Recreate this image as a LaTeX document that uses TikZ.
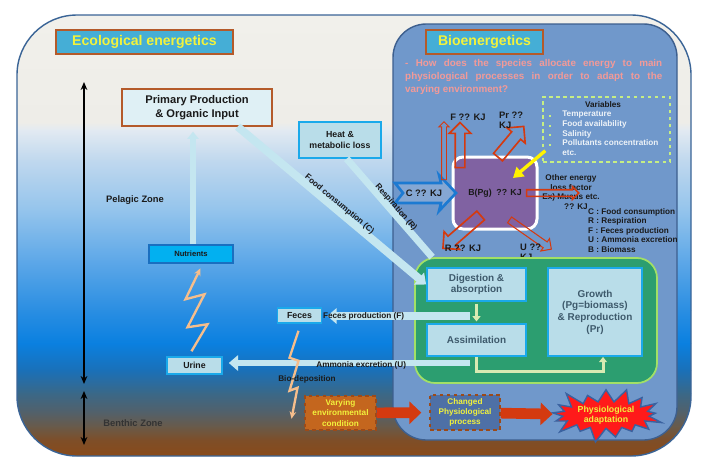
\documentclass[tikz,border=0pt]{standalone}
\usepackage{fontspec}
\setmainfont{Liberation Sans}
\usetikzlibrary{positioning, calc, arrows.meta, shapes.arrows, shapes.symbols}

\definecolor{framebd}{HTML}{3A6496}
\definecolor{bioarea}{HTML}{7098CB}
\definecolor{biobd}{HTML}{3D5F8E}
\definecolor{titlefill}{HTML}{45AED6}
\definecolor{titlebd}{HTML}{B45A2A}
\definecolor{titletxt}{HTML}{F2F23C}
\definecolor{qpink}{HTML}{F39A98}
\definecolor{varbd}{HTML}{C6EE84}
\definecolor{vartxt}{HTML}{EEF3F8}
\definecolor{purplebox}{HTML}{8062A2}
\definecolor{lossred}{HTML}{D43A10}
\definecolor{cblue}{HTML}{1C7AD2}
\definecolor{greenfill}{HTML}{2C9E70}
\definecolor{greenbd}{HTML}{A2E066}
\definecolor{procfill}{HTML}{B9DDE9}
\definecolor{procbd}{HTML}{1AA9EA}
\definecolor{proctxt}{HTML}{3E5A6C}
\definecolor{flowcyan}{HTML}{C4E6F0}
\definecolor{innerflowc}{HTML}{D8EAB2}
\definecolor{zigpeach}{HTML}{F6BE8C}
\definecolor{nutrfill}{HTML}{02B0F0}
\definecolor{nutrbd}{HTML}{1A6FC0}
\definecolor{envfill}{HTML}{C4661E}
\definecolor{envbd}{HTML}{9C4A18}
\definecolor{chgfill}{HTML}{4E70A6}
\definecolor{burstred}{HTML}{FF1A1A}
\definecolor{burstbd}{HTML}{3A62A0}
\definecolor{darktxt}{HTML}{1A1A1A}
% sea colours, bottom to top
\definecolor{sea0}{HTML}{8A4A18}
\definecolor{sea1}{HTML}{7E4E28}
\definecolor{sea2}{HTML}{6A5A48}
\definecolor{sea3}{HTML}{546068}
\definecolor{sea4}{HTML}{3A6888}
\definecolor{sea5}{HTML}{1A70B8}
\definecolor{sea6}{HTML}{0A80E0}
\definecolor{sea7}{HTML}{2A8EE2}
\definecolor{sea8}{HTML}{5EA8E8}
\definecolor{sea9}{HTML}{94C4EC}
\definecolor{sea10}{HTML}{C0D8EE}
\definecolor{sea11}{HTML}{E2EAF2}
\definecolor{sea12}{HTML}{EEEDE8}
\definecolor{sea13}{HTML}{F1F0EB}

\newcommand{\fsz}[2]{\fontsize{#1}{#2}\selectfont}

\begin{document}
\begin{tikzpicture}[x=0.03cm, y=-0.03cm,
    every node/.style={font=\bfseries\fsz{7}{8.4}, text=darktxt, inner sep=0pt, align=center},
    titlebox/.style={draw=titlebd, fill=titlefill, line width=1.1pt, text=titletxt, font=\bfseries\fsz{12}{14}},
    srcbox/.style={draw=titlebd, fill=procfill!45!white, line width=1.1pt, font=\bfseries\fsz{9.5}{12}},
    cyanbox/.style={draw=procbd, fill=procfill, line width=1.3pt, font=\bfseries\fsz{7.5}{9}},
    procbox/.style={draw=procbd, fill=procfill, line width=1.5pt, text=proctxt, font=\bfseries\fsz{8.5}{10}},
    lossarrow/.style={shape=single arrow, draw=lossred, line width=1.4pt, single arrow head indent=0pt, inner xsep=0pt},
    kjlabel/.style={font=\bfseries\fsz{8}{8.6}},
    envbox/.style={draw=envbd, dashed, line width=1.1pt, text=titletxt, font=\bfseries\fsz{7}{8.6}},
    flow/.style={draw=flowcyan, line width=2.2mm, -{Triangle[width=4.6mm,length=2.8mm]}},
    innerflow/.style={draw=innerflowc, line width=0.9mm, -{Triangle[width=2.4mm,length=1.6mm]}},
    zig/.style={draw=zigpeach, line width=0.7mm, -{Stealth[width=2mm,length=2.2mm]}},
    zone/.style={draw=black, line width=0.6mm, {Stealth[width=2mm,length=2.4mm]}-{Stealth[width=2mm,length=2.4mm]}},
    redflow/.style={draw=lossred, line width=3.2mm, -{Triangle[width=6.6mm,length=3.6mm]}}
]
\useasboundingbox (0,0) rectangle (707,471);

% sea frame, shaded band by band
\begin{scope}
  \clip[rounded corners=18mm] (17,15) rectangle (691,456);
  \foreach \ya/\yb/\ca/\cb in {15/122/sea13/sea12, 122/130/sea12/sea11, 130/160/sea11/sea10,
      160/210/sea10/sea9, 210/260/sea9/sea8, 260/310/sea8/sea7, 310/343/sea7/sea6,
      343/370/sea6/sea5, 370/393/sea5/sea4, 393/413/sea4/sea3, 413/427/sea3/sea2,
      427/440/sea2/sea1, 440/457/sea1/sea0}
    \shade[top color=\ca, bottom color=\cb] (17,\ya) rectangle (691,{\yb+0.6});
\end{scope}
\draw[framebd, line width=1.2pt, rounded corners=18mm] (17,15) rectangle (691,456);
\filldraw[fill=bioarea, draw=biobd, line width=1.2pt, rounded corners=10mm] (393,24) rectangle (677,440);

\node[titlebox, minimum width=53.1mm, minimum height=7.2mm] (ecotitle) at (144.5,42) {Ecological energetics};
\node[titlebox, minimum width=35.1mm, minimum height=7.2mm] (biotitle) at (484.5,42) {Bioenergetics};
\node[anchor=north west, text width=77.1mm, align=justify, text=qpink, font=\bfseries\fsz{8.4}{11.2}] (question) at (405,59)
  {- How does the species allocate energy to main\linebreak physiological processes in order to adapt to the\linebreak varying environment?};

% zones
\coordinate (peltop) at (84,82);
\coordinate (pelbot) at (84,384);
\coordinate (bentop) at (84,391);
\coordinate (benbot) at (84,445);
\draw[zone] (peltop) -- (pelbot);
\draw[zone] (bentop) -- (benbot);
\node[font=\bfseries\fsz{8}{9}] (pelagic) at (135,200) {Pelagic Zone};
\node[font=\bfseries\fsz{8}{9}, text=black!80] (benthic) at (133,423) {Benthic Zone};

% environment boxes
\node[srcbox, minimum width=45mm, minimum height=11.1mm] (prim) at (197,107.5) {Primary Production\\\& Organic Input};
\node[cyanbox, minimum width=24.6mm, minimum height=10.8mm] (heat) at (340,140) {Heat \&\\metabolic loss};
\node[draw=nutrbd, fill=nutrfill, line width=1.3pt, minimum width=25.2mm, minimum height=5.4mm, font=\bfseries\fsz{6.5}{8}] (nutr) at (191,254) {Nutrients};
\node[cyanbox, minimum width=16.5mm, minimum height=5.1mm] (urine) at (194.5,365.5) {Urine};
\node[cyanbox, minimum width=13.2mm, minimum height=4.5mm] (feces) at (299.5,315.5) {Feces};

% variables
\node[draw=varbd, dashed, line width=1.2pt, minimum width=38.1mm, minimum height=19.5mm] (vars) at (606.5,129.5) {};
\node (varttl) at (603,105) {Variables};
\node[anchor=north west, align=left, text=vartxt, font=\bfseries\fsz{7}{8.2}] (varlist) at (549,110)
  {\begin{tabular}{@{}l@{\hspace{3.4mm}}l@{}}
   \textcolor{varbd}{\rule{1.5pt}{1.5pt}} & Temperature\\
   \textcolor{varbd}{\rule{1.5pt}{1.5pt}} & Food availability\\
   \textcolor{varbd}{\rule{1.5pt}{1.5pt}} & Salinity\\
   \textcolor{varbd}{\rule{1.5pt}{1.5pt}} & Pollutants concentration\\
   & etc.
   \end{tabular}};

% organism box
\node[draw=white, fill=purplebox, line width=0.9mm, rounded corners=3mm, minimum width=25.2mm, minimum height=21.6mm, font=\bfseries\fsz{7.5}{9}] (biomass) at (495,193) {B(Pg)\hspace{4pt}?? KJ};
\coordinate (ytip) at (513,178);
\draw[yellow, line width=1mm, -{Triangle[width=3.6mm,length=3mm]}] ($(vars.south west)+(3,-12)$) -- (ytip);

\filldraw[fill=bioarea!85!white, draw=cblue, line width=0.8mm, line join=miter]
  (395,183) -- (441,183) -- (439,175) -- (456,193) -- (439,211) -- (441,203) -- (395,203) -- (403,193) -- cycle;
\node[kjlabel] (cin) at (424,193) {C ?? KJ};

\node[lossarrow, line width=0.8pt, minimum height=17.4mm, inner ysep=0.6mm, single arrow head extend=0.8mm, rotate=90] (fthin) at (444,152) {};
\node[lossarrow, minimum height=13.5mm, inner ysep=1.2mm, single arrow head extend=1.8mm, rotate=90] (fthick) at (460,147.5) {};
\node[lossarrow, minimum height=12mm, inner ysep=1.5mm, single arrow head extend=1.8mm, rotate=50] (prout) at (509,144) {};
\node[lossarrow, minimum height=15mm, inner ysep=1.5mm, single arrow head extend=1.8mm, rotate=221] (rout) at (464,230) {};
\node[lossarrow, line width=0.9pt, minimum height=15.3mm, inner ysep=0.9mm, single arrow head extend=1.2mm, rotate=-35] (uout) at (529,233.5) {};
\node (otherlabel) at (571,192) {Other energy\\loss factor\\Ex) Mucus etc.\\\hspace{3mm}?? KJ};
\node[lossarrow, minimum height=15.6mm, inner ysep=0.75mm, single arrow head extend=0.9mm] (otherout) at (551,193) {};

\node[kjlabel] (flabel) at (468,117) {F ?? KJ};
\node[kjlabel, anchor=north west, align=left] (prlabel) at (499,112) {Pr ??\\KJ};
\node[kjlabel] (rlabel) at (463,248) {R ?? KJ};
\node[kjlabel, anchor=north west, align=left] (ulabel) at (520,244) {U ??\\KJ};
\node[anchor=north west, align=left, font=\bfseries\fsz{7}{8.1}] (legend) at (588,208)
  {C : Food consumption\\R : Respiration\\F : Feces production\\U : Ammonia excretion\\B : Biomass};

% physiological processes
\node[draw=greenbd, fill=greenfill, line width=1.5pt, rounded corners=6mm, minimum width=72.6mm, minimum height=37.5mm] (organism) at (536,320.5) {};
\node[procbox, minimum width=29.7mm, minimum height=9.9mm] (digest) at (476.5,284.5) {Digestion \&\\absorption};
\node[procbox, minimum width=29.7mm, minimum height=9.6mm] (assim) at (476.5,340) {Assimilation};
\node[procbox, minimum width=28.2mm, minimum height=26.4mm] (growth) at (595,312) {Growth\\(Pg=biomass)\\\& Reproduction\\(Pr)};
\draw[innerflow, shorten >=0.5mm, shorten <=0.5mm] (digest) -- (assim);
\draw[innerflow] (assim.south) -- ++(0,15) -| ([xshift=2.4mm]growth.south);

% energy flows
\coordinate (fout) at (470,316);
\coordinate (aout) at (470,363);
\draw[flow, line width=2.4mm] ([xshift=-10.5mm]prim.south east) -- node[sloped, above=-0.6mm, pos=0.52] (foodtxt) {Food consumption (C)} (digest.west);
\draw[flow, -, line width=2.1mm] ([xshift=2mm]heat.south) -- node[sloped, above=-0.6mm, pos=0.53] (resptxt) {Respiration (R)} ($(organism.north west)+(18,0)$);
\draw[flow, line width=1.6mm, -{Triangle[width=3.4mm,length=2.2mm]}, shorten >=1.5mm] ([xshift=0.6mm]nutr.north) -- ([xshift=0.6mm]nutr.north |- prim.south);
\draw[flow, shorten >=1.5mm] (fout) -- node[pos=0.72] (fecestxt) {Feces production (F)} (fout -| feces.east);
\draw[flow, line width=1.8mm, shorten >=1.8mm] (aout) -- node[pos=0.44, yshift=-0.8mm] (ammtxt) {Ammonia excretion (U)} (aout -| urine.east);

\draw[zig] ($(urine.north)+(-3,-5)$) -- ++(16,-27) -- ++(-20,3) -- ++(17,-33) -- ++(-19,5) -- ++(15,-31);
\draw[zig] ($(feces.south)+(-1,7)$) -- ++(-9,27) -- ++(9,3) -- ++(-9,30) -- ++(8,-3) -- ++(-6,31);
\node (biodep) at (307,379) {Bio-deposition};

% adaptation chain
\node[envbox, fill=envfill, minimum width=21.3mm, minimum height=10.2mm] (envcond) at (340.5,413) {Varying\\environmental\\condition};
\node[envbox, fill=chgfill, minimum width=21mm, minimum height=10.5mm] (chgproc) at (465,412.5) {Changed\\Physiological\\process};
\node[shape=starburst, fill=burstred, draw=burstbd, line width=1.2pt, minimum width=36mm, minimum height=18mm, text=titletxt, font=\bfseries\fsz{7.5}{9}] (adapt) at (606,415) {Physiological\\adaptation};
\draw[redflow, shorten >=2.4mm] (envcond) -- (chgproc);
\draw[redflow, shorten >=0.5mm] (chgproc) -- (adapt);

\end{tikzpicture}
\end{document}
